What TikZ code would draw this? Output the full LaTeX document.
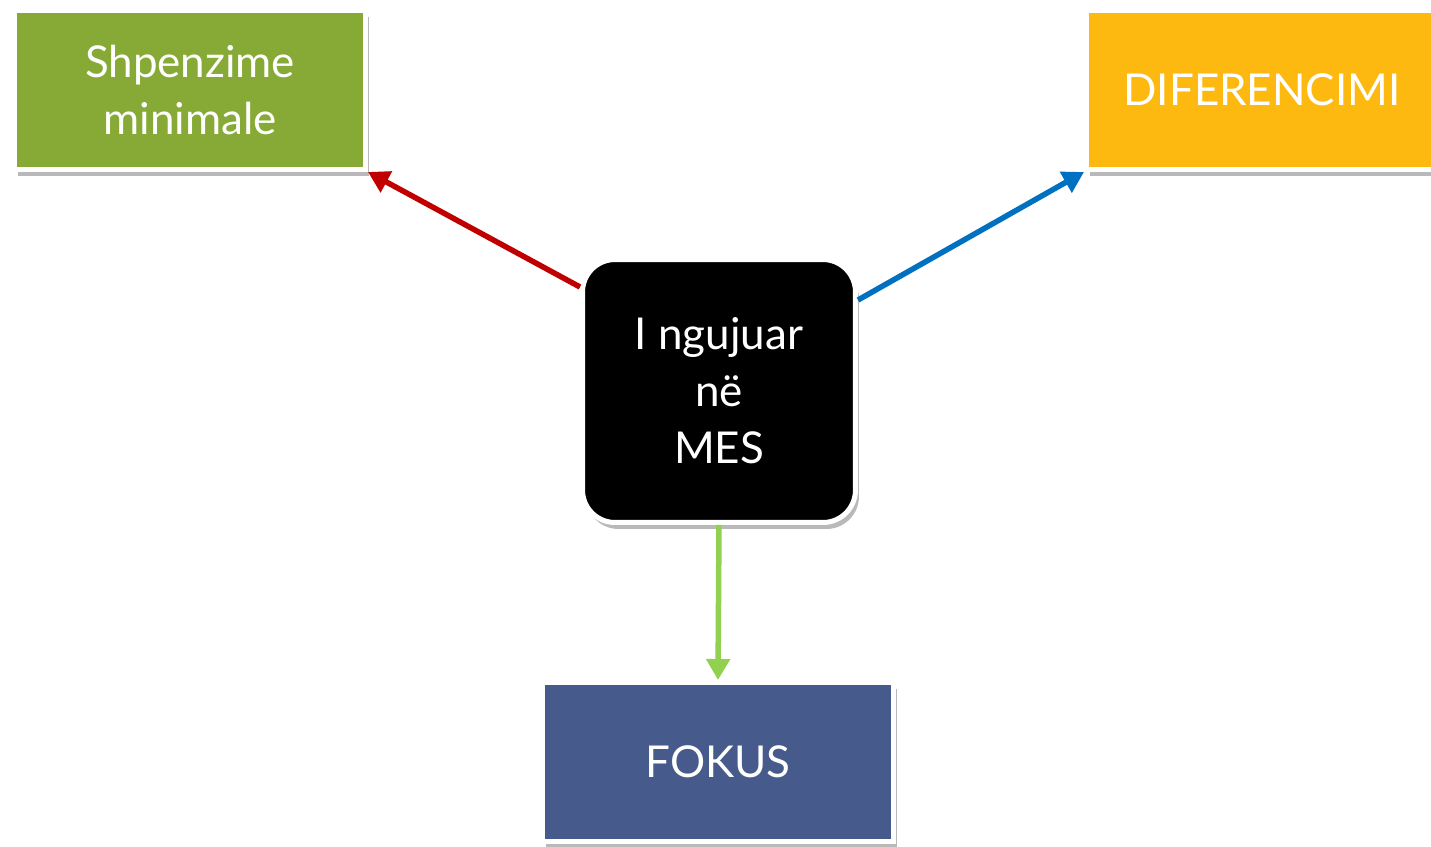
\documentclass[tikz,border=0pt]{standalone}
\usepackage{fontspec}
\setmainfont{Lato}
\usetikzlibrary{positioning}
\usetikzlibrary{shapes}
\usetikzlibrary{shadows}
\usetikzlibrary{arrows.meta}
\definecolor{boxGreen}{HTML}{86AA35}
\definecolor{boxOrange}{HTML}{FDB90F}
\definecolor{boxBlue}{HTML}{465A8B}
\definecolor{arrRed}{HTML}{C00000}
\definecolor{arrBlue}{HTML}{0070C0}
\definecolor{arrGreen}{HTML}{92D050}

\begin{document}
\begin{tikzpicture}[x=0.02cm,y=-0.02cm,
    corner/.style={shape=rectangle, draw=white, line width=0.1cm, text=white,
        minimum width=7.02cm, minimum height=3.18cm, align=center,
        font=\fontsize{25}{32}\selectfont,
        drop shadow={shadow xshift=0.07cm, shadow yshift=-0.13cm, fill=black!55, opacity=0.5}},
    link/.style={line width=0.11cm, -{Triangle[length=0.42cm,width=0.46cm]}}]
    \useasboundingbox (0,0) rectangle (1431,846);
    \node[corner, fill=boxGreen] (cost) at (190,90) {Shpenzime\\minimale};
    \node[corner, fill=boxOrange] (diff) at (1262,90) {DIFERENCIMI};
    \node[corner, fill=boxBlue] (focus) at (718,762) {FOKUS};
    \node[shape=rectangle, rounded corners=0.65cm, draw=white, line width=0.1cm, fill=black, text=white,
        minimum width=5.46cm, minimum height=5.26cm, align=center,
        font=\fontsize{25}{32.5}\selectfont,
        drop shadow={shadow xshift=0.07cm, shadow yshift=-0.13cm, fill=black!55, opacity=0.5}] (mes) at (719,391) {I ngujuar\\në\\MES};

    \path [link, color=arrRed] ([yshift=-0.6cm]mes.north west) edge (cost.south east);
    \path [link, color=arrBlue] ([yshift=-0.86cm]mes.north east) edge (diff.south west);
    \path [link, color=arrGreen] (mes.south) edge (focus.north);
\end{tikzpicture}
\end{document}
